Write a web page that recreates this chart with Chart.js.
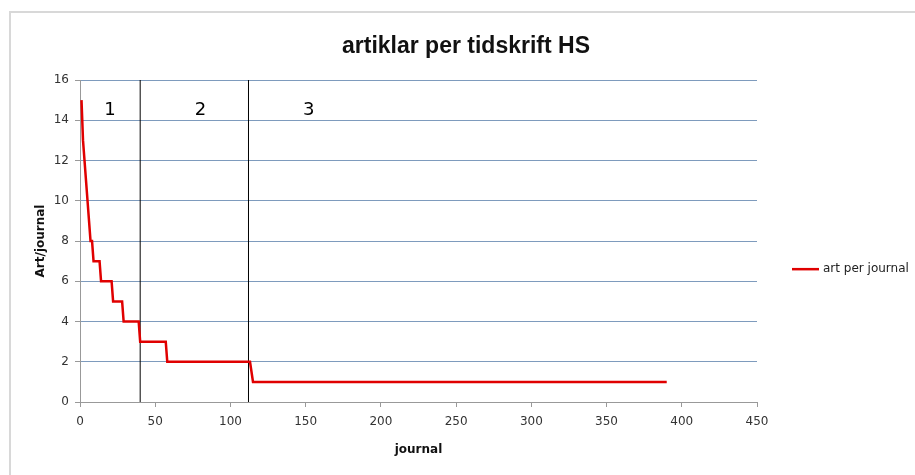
<!DOCTYPE html>
<html>
<head>
<meta charset="utf-8">
<script src="https://cdn.jsdelivr.net/npm/chart.js@4.4.1/dist/chart.umd.min.js"></script>
<style>
   html, body { margin: 0; padding: 0; background: #fff; }
   #wrap { position: relative; width: 915px; height: 475px; }
   #frame { position: absolute; left: 9px; top: 11px; right: 0; bottom: 0;
            border-left: 2px solid #d8d8d8; border-top: 2px solid #d8d8d8; }
   canvas { position: absolute; left: 0; top: 0; }
</style>
</head>
<body>
<div id="wrap">
   <div id="frame"></div>
   <canvas id="artChart" width="915" height="475"></canvas>
</div>
<script>
// corner points of the curve (journal rank, articles per journal)
const journalRank = [1, 2, 3, 4, 5, 6, 7, 8, 9, 13, 14, 21, 22, 28, 29, 39, 40, 57, 58, 113, 115, 390];
const artPerJournal = [15, 13, 12, 11, 10, 9, 8, 8, 7, 7, 6, 6, 5, 5, 4, 4, 3, 3, 2, 2, 1, 1];

// zone borders and zone names
const zoneBorders = [40, 112];
const zoneNames = ['1', '2', '3'];
const zoneNameX = [20, 80, 152];
const zoneNameY = 14.5;

const chartTitle = 'artiklar per tidskrift HS';
const seriesName = 'art per journal';

const datasets = [{
   label: seriesName,
   data: journalRank.map((x, i) => ({ x: x, y: artPerJournal[i] })),
   borderColor: '#e00000',
   borderWidth: 2.5,
   pointRadius: 0,
   tension: 0,
   order: 1
}];
zoneBorders.forEach(b => {
   datasets.push({
      label: 'border',
      data: [{ x: b, y: 0 }, { x: b, y: 16 }],
      borderColor: '#000',
      borderWidth: 1,
      pointRadius: 0,
      order: 2
   });
});

const extras = {
   id: 'extras',
   afterDraw(chart) {
      const ctx = chart.ctx;
      const xs = chart.scales.x, ys = chart.scales.y;
      ctx.save();
      // title, centred on the whole frame like Excel does
      ctx.fillStyle = '#111';
      ctx.font = 'bold 23px "Liberation Sans"';
      ctx.textAlign = 'center';
      ctx.textBaseline = 'middle';
      ctx.fillText(chartTitle, 466, 47);

      ctx.fillStyle = '#000';
      ctx.font = '18px "DejaVu Sans"';
      zoneNames.forEach((n, i) => {
         ctx.fillText(n, xs.getPixelForValue(zoneNameX[i]), ys.getPixelForValue(zoneNameY));
      });
      // legend
      const ly = ys.getPixelForValue(6.6);
      ctx.strokeStyle = '#e00000';
      ctx.lineWidth = 2.5;
      ctx.beginPath();
      ctx.moveTo(792, ly);
      ctx.lineTo(819, ly);
      ctx.stroke();
      ctx.font = '12px "DejaVu Sans"';
      ctx.fillStyle = '#222';
      ctx.textAlign = 'left';
      ctx.fillText(seriesName, 823, ly);
      ctx.restore();
   }
};

new Chart(document.getElementById('artChart').getContext('2d'), {
   type: 'line',
   data: { datasets: datasets },
   options: {
      responsive: false,
      animation: false,
      layout: { padding: { left: 30, right: 158, top: 80, bottom: 14 } },
      plugins: {
         legend: { display: false },
         tooltip: { enabled: false },
         title: { display: false }
      },
      scales: {
         x: {
            type: 'linear',
            min: 0,
            max: 450,
            afterFit: s => { s.height = 59; },
            ticks: { stepSize: 50, color: '#333', font: { family: 'DejaVu Sans', size: 12 }, padding: 8 },
            grid: { drawOnChartArea: false, drawTicks: true, tickLength: 5, color: '#999' },
            border: { color: '#999' },
            title: {
               display: true,
               text: 'journal',
               color: '#111',
               font: { family: 'DejaVu Sans', size: 12, weight: 'bold' },
               padding: { top: 2 }
            }
         },
         y: {
            min: 0,
            max: 16,
            afterFit: s => { s.width = 50; },
            ticks: { stepSize: 2, color: '#333', font: { family: 'DejaVu Sans', size: 12 }, padding: 6 },
            grid: { color: '#7e9bbd', tickColor: '#999', tickLength: 5 },
            border: { color: '#999' },
            title: {
               display: true,
               text: 'Art/journal',
               color: '#111',
               font: { family: 'DejaVu Sans', size: 12, weight: 'bold' },
               padding: { bottom: 2 }
            }
         }
      }
   },
   plugins: [extras]
});
</script>
</body>
</html>
